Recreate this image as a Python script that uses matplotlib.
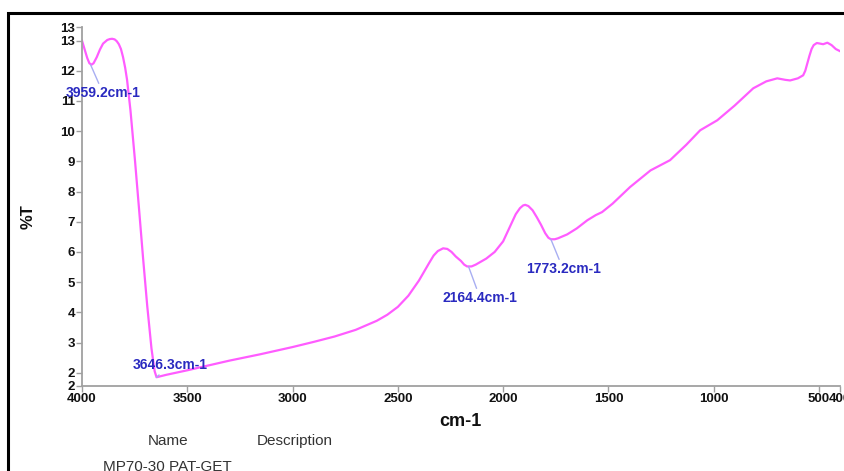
import matplotlib
matplotlib.use("Agg")
import matplotlib.pyplot as plt
from matplotlib.patches import Rectangle
from matplotlib.ticker import FormatStrFormatter

plt.rcParams['font.family'] = ['Liberation Sans', 'DejaVu Sans']

# FTIR spectrum, wavenumber (cm-1) vs transmittance (%T)
wavenumber = [4000, 3985, 3975, 3965, 3955, 3945, 3930, 3915, 3900, 3880,
              3868, 3857, 3845, 3835, 3825, 3815, 3805, 3795, 3786, 3770,
              3748, 3730, 3710, 3690, 3670, 3655, 3646, 3600, 3500, 3400,
              3300, 3154, 3000, 2900, 2800, 2700, 2600, 2550, 2500, 2450,
              2400, 2350, 2330, 2310, 2285, 2265, 2245, 2225, 2200, 2185,
              2171, 2150, 2130, 2080, 2040, 2000, 1960, 1940, 1920, 1905,
              1895, 1880, 1860, 1840, 1820, 1800, 1785, 1773, 1755, 1740,
              1696, 1650, 1600, 1560, 1530, 1480, 1397, 1300, 1207, 1130,
              1064, 983, 900, 812, 750, 698, 660, 637, 600, 575,
              565, 555, 545, 535, 525, 510, 480, 460, 440, 420, 400]
transmittance = [13.0, 12.65, 12.42, 12.25, 12.2, 12.25, 12.45, 12.7, 12.9, 13.02,
                 13.05, 13.06, 13.04, 12.98, 12.88, 12.72, 12.45, 12.1, 11.7, 10.7,
                 9.0, 7.5, 5.8, 4.2, 2.8, 2.05, 1.85, 1.93, 2.08, 2.24,
                 2.40, 2.61, 2.85, 3.02, 3.20, 3.42, 3.72, 3.92, 4.18, 4.55,
                 5.05, 5.65, 5.88, 6.03, 6.12, 6.1, 6.0, 5.85, 5.7, 5.58,
                 5.52, 5.52, 5.58, 5.78, 6.0, 6.35, 6.95, 7.25, 7.45, 7.54,
                 7.56, 7.52, 7.38, 7.15, 6.9, 6.62, 6.47, 6.42, 6.42, 6.45,
                 6.58, 6.78, 7.05, 7.22, 7.32, 7.6, 8.15, 8.7, 9.04, 9.55,
                 10.03, 10.36, 10.85, 11.42, 11.65, 11.75, 11.7, 11.68, 11.75, 11.85,
                 12.0, 12.25, 12.5, 12.72, 12.85, 12.92, 12.88, 12.93, 12.85, 12.72, 12.65]

# labelled minima: (wavenumber, %T at the curve, text x, text y)
peak_wn = [3959.2, 3646.3, 2164.4, 1773.2]
peak_t = [12.2, 1.85, 5.52, 6.42]
label_x = [3900, 3582, 2109, 1715]
label_y = [11.26, 2.25, 4.47, 5.43]

x_ticks = [4000, 3500, 3000, 2500, 2000, 1500, 1000, 500, 400]
y_lo, y_hi = 1.56, 13.45
y_ticks = [y_lo] + list(range(2, 14)) + [y_hi]

fig = plt.figure(figsize=(8.45, 4.71), dpi=100)
ax = fig.add_axes([82 / 845, 1 - 386 / 471, (840 - 82) / 845, (386 - 27) / 471])

ax.plot(wavenumber, transmittance, color='#ff5cff', lw=1.6)

for wn, t, tx, ty in zip(peak_wn, peak_t, label_x, label_y):
    ax.annotate(f'{wn}cm-1', xy=(wn, t), xytext=(tx, ty),
                ha='center', va='center', fontsize=10, fontweight='bold',
                color='#2a2ac0',
                arrowprops=dict(arrowstyle='-', color='#a8aef2', lw=1,
                                shrinkA=0, shrinkB=0))

ax.set_xlim(4000, 400)
ax.set_ylim(y_lo, y_hi)
ax.set_xticks(x_ticks)
ax.set_yticks(y_ticks)
ax.yaxis.set_major_formatter(FormatStrFormatter('%.0f'))

for side in ['top', 'right']:
    ax.spines[side].set_visible(False)
for side in ['left', 'bottom']:
    ax.spines[side].set_color('#a0a0a0')
    ax.spines[side].set_linewidth(1.3)
ax.tick_params(colors='#a0a0a0', length=4, width=1, labelcolor='#111111',
               labelsize=9.5, pad=1)
for lab in ax.get_xticklabels() + ax.get_yticklabels():
    lab.set_fontweight('bold')

fig.text(460 / 845, 1 - 422 / 471, 'cm-1', ha='center', va='center',
         fontsize=13, fontweight='bold', color='#111111')
fig.text(28 / 845, 1 - 217 / 471, '%T', ha='center', va='center',
         rotation=90, fontsize=12, fontweight='bold', color='#111111')

fig.text(168 / 845, 1 - 441 / 471, 'Name', ha='center', va='center',
         fontsize=11, color='#333333')
fig.text(295 / 845, 1 - 441 / 471, 'Description', ha='center', va='center',
         fontsize=11, color='#333333')
fig.text(167 / 845, 1 - 467 / 471, 'MP70-30 PAT-GET', ha='center', va='center',
         fontsize=11, color='#333333')

# outer frame, running off the right and bottom edges
fig.patches.append(Rectangle((8 / 845, -0.2), 1.2, 1.2 - 13 / 471,
                             transform=fig.transFigure, fill=False,
                             edgecolor='black', lw=2.2))

fig.savefig('out.png', dpi=100)
